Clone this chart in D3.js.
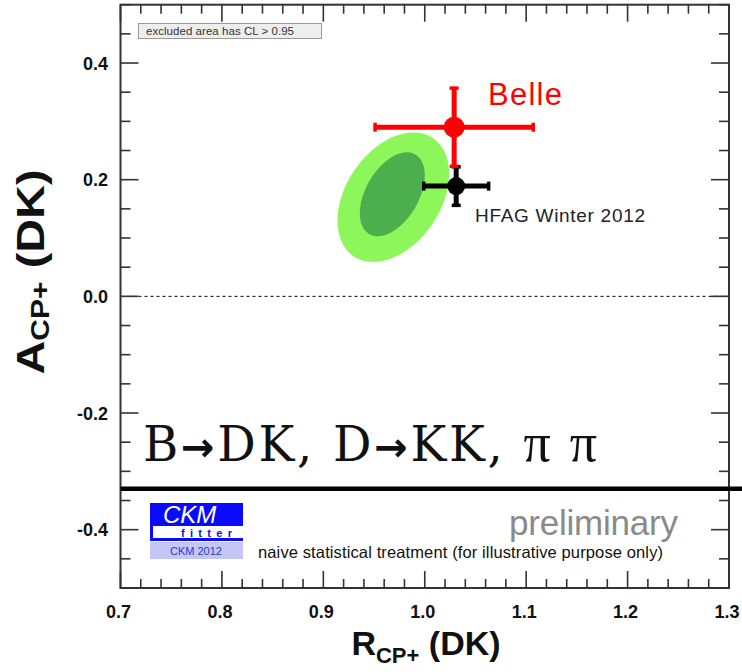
<!DOCTYPE html>
<html>
<head>
<meta charset="utf-8">
<script src="https://d3js.org/d3.v7.min.js"></script>
<style>
  body { margin:0; background:white; }
  text { font-family: "Liberation Sans", Arial, sans-serif; }
</style>
</head>
<body>
<div id="container"></div>
<script>
var w = 742;
var h = 672;

// Data =====================================================
var xTickValues = [0.7, 0.8, 0.9, 1.0, 1.1, 1.2, 1.3];
var yTickValues = [-0.4, -0.2, 0.0, 0.2, 0.4];

// measurements: R_CP+, A_CP+ with errors
var pointNames  = ["HFAG Winter 2012", "Belle"];
var pointR      = [1.031, 1.029];
var pointRErr   = [0.032, 0.078];
var pointA      = [0.189, 0.290];
var pointAErr   = [0.033, 0.067];
var pointColors = ["#000000", "#ff0000"];

// CL contours (outer = 95%, inner = 68%)
var contourNames   = ["outer", "inner"];
var contourR       = [0.969, 0.968];
var contourA       = [0.170, 0.175];
var contourHalfR   = [0.055, 0.032];
var contourHalfA   = [0.111, 0.072];
var contourRho     = [0.36, 0.45];
var contourColors  = ["#8df65b", "#4cae4c"];

var cutLineA = -0.330;
// ===========================================================

var svg = d3.select("#container")
            .append("svg")
            .attr("width", w)
            .attr("height", h)
            .style("background", "white");

var x = d3.scaleLinear().domain([0.7, 1.3]).range([120.5, 729]);
var y = d3.scaleLinear().domain([-0.5, 0.5]).range([588, 4.7]);

// Contours ==================================================
var line = d3.line().x(function(d){ return x(d[0]); }).y(function(d){ return y(d[1]); });
contourNames.forEach(function(name, i){
    var pts = d3.range(0, 361, 3).map(function(deg){
        var t = deg * Math.PI / 180;
        var r = contourR[i] + contourHalfR[i] * Math.cos(t);
        var a = contourA[i] + contourHalfA[i] * (contourRho[i] * Math.cos(t) + Math.sqrt(1 - contourRho[i]*contourRho[i]) * Math.sin(t));
        return [r, a];
    });
    svg.append("path")
       .attr("d", line(pts) + "Z")
       .attr("fill", contourColors[i])
       .attr("stroke", "none");
});

// zero line
svg.append("line")
   .attr("x1", x(0.7)).attr("x2", x(1.3))
   .attr("y1", y(0)).attr("y2", y(0))
   .attr("stroke", "black")
   .attr("stroke-width", 1)
   .attr("stroke-dasharray", "3,3");

// Axes / frame ==============================================
var axisColor = "#333";
var frame = svg.append("g");
frame.append("rect")
     .attr("x", x(0.7)).attr("y", y(0.5))
     .attr("width", x(1.3) - x(0.7))
     .attr("height", y(-0.5) - y(0.5))
     .attr("fill", "none")
     .attr("stroke", axisColor)
     .attr("stroke-width", 2);

var xMinor = d3.range(0, 31).map(function(i){ return 0.7 + i * 0.02; });
xMinor.forEach(function(v){
    var major = Math.abs(Math.round(v * 10) - v * 10) < 1e-6;
    var len = major ? 17 : 9;
    frame.append("line").attr("x1", x(v)).attr("x2", x(v))
         .attr("y1", y(-0.5)).attr("y2", y(-0.5) - len)
         .attr("stroke", axisColor).attr("stroke-width", 1.6);
    frame.append("line").attr("x1", x(v)).attr("x2", x(v))
         .attr("y1", y(0.5)).attr("y2", y(0.5) + len)
         .attr("stroke", axisColor).attr("stroke-width", 1.6);
});
var yMinor = d3.range(0, 21).map(function(i){ return -0.5 + i * 0.05; });
yMinor.forEach(function(v){
    var major = Math.abs(Math.round(v * 5) - v * 5) < 1e-6;
    var len = major ? 18 : 10;
    frame.append("line").attr("y1", y(v)).attr("y2", y(v))
         .attr("x1", x(0.7)).attr("x2", x(0.7) + len)
         .attr("stroke", axisColor).attr("stroke-width", 1.6);
    frame.append("line").attr("y1", y(v)).attr("y2", y(v))
         .attr("x1", x(1.3)).attr("x2", x(1.3) - len)
         .attr("stroke", axisColor).attr("stroke-width", 1.6);
});

svg.selectAll(".xlab")
   .data(xTickValues).enter()
   .append("text")
   .attr("x", function(d){ return x(d) - 2; })
   .attr("y", 618)
   .attr("text-anchor", "middle")
   .attr("font-size", 18).attr("font-weight", "bold")
   .attr("fill", "#111")
   .text(function(d){ return d.toFixed(1); });

svg.selectAll(".ylab")
   .data(yTickValues).enter()
   .append("text")
   .attr("x", 108)
   .attr("y", function(d){ return y(d) + 6.5; })
   .attr("text-anchor", "end")
   .attr("font-size", 18).attr("font-weight", "bold")
   .attr("fill", "#111")
   .text(function(d){ return d.toFixed(1); });

// axis titles
var xt = svg.append("text")
   .attr("x", 426).attr("y", 655)
   .attr("text-anchor", "middle")
   .attr("font-weight", "bold").attr("font-size", 34)
   .attr("fill", "#111");
xt.append("tspan").text("R");
xt.append("tspan").attr("font-size", 22).attr("dy", 8).text("CP+");
xt.append("tspan").attr("dy", -8).text(" (DK)");

var yt = svg.append("text")
   .attr("transform", "translate(44,272) rotate(-90)")
   .attr("text-anchor", "middle")
   .attr("font-weight", "bold").attr("font-size", 39)
   .attr("fill", "#111")
   .attr("textLength", 205)
   .attr("lengthAdjust", "spacingAndGlyphs");
yt.append("tspan").text("A");
yt.append("tspan").attr("font-size", 25).attr("dy", 5).text("CP+");
yt.append("tspan").attr("dy", -5).text(" (DK)");

// Legend ====================================================
svg.append("rect")
   .attr("x", 138.5).attr("y", 23.5).attr("width", 183).attr("height", 15)
   .attr("fill", "#eeeeee").attr("stroke", "#999").attr("stroke-width", 1);
svg.append("text")
   .attr("x", 146).attr("y", 35).attr("font-size", 11.5).attr("fill", "#333")
   .attr("textLength", 148)
   .text("excluded area has CL > 0.95");

// Points ====================================================
pointNames.forEach(function(name, i){
    var g = svg.append("g").attr("fill", pointColors[i]).attr("stroke", pointColors[i]);
    var cx = x(pointR[i]), cy = y(pointA[i]);
    var x0 = x(pointR[i] - pointRErr[i]), x1 = x(pointR[i] + pointRErr[i]);
    var y0 = y(pointA[i] + pointAErr[i]), y1 = y(pointA[i] - pointAErr[i]);
    g.append("line").attr("x1", x0).attr("x2", x1).attr("y1", cy).attr("y2", cy).attr("stroke-width", 5);
    g.append("line").attr("x1", cx).attr("x2", cx).attr("y1", y0).attr("y2", y1).attr("stroke-width", 5);
    // caps
    [x0, x1].forEach(function(xx){
        g.append("line").attr("x1", xx).attr("x2", xx).attr("y1", cy - 4.5).attr("y2", cy + 4.5).attr("stroke-width", 3.5);
    });
    [y0, y1].forEach(function(yy){
        g.append("line").attr("y1", yy).attr("y2", yy).attr("x1", cx - 4.5).attr("x2", cx + 4.5).attr("stroke-width", 3.5);
    });
    g.append("circle").attr("cx", cx).attr("cy", cy).attr("r", i == 1 ? 10.5 : 9).attr("stroke", "none");
});

svg.append("text")
   .attr("x", 488).attr("y", 105)
   .attr("font-size", 31).attr("fill", "#ff0000")
   .attr("textLength", 74)
   .text("Belle");
svg.append("text")
   .attr("x", 475).attr("y", 222)
   .attr("font-size", 19).attr("fill", "#222")
   .attr("textLength", 170)
   .text("HFAG Winter 2012");

// Annotations ===============================================
var mode = svg.append("text")
   .attr("x", 143).attr("y", 461)
   .style("font-family", "'DejaVu Serif', serif")
   .attr("font-size", 48)
   .attr("fill", "#111")
   .attr("textLength", 454)
   .attr("lengthAdjust", "spacing");
mode.append("tspan").text("B");
mode.append("tspan").style("font-family", "'DejaVu Sans', sans-serif").attr("font-weight", "bold").attr("font-size", 40).text("→");
mode.append("tspan").text("DK, D");
mode.append("tspan").style("font-family", "'DejaVu Sans', sans-serif").attr("font-weight", "bold").attr("font-size", 40).text("→");
mode.append("tspan").text("KK, ");
mode.append("tspan").style("font-family", "'Liberation Serif', serif").attr("font-size", 54).text("π π");

svg.append("line")
   .attr("x1", x(0.7)).attr("x2", w)
   .attr("y1", y(cutLineA)).attr("y2", y(cutLineA))
   .attr("stroke", "black").attr("stroke-width", 4.5);

svg.append("text")
   .attr("x", 509).attr("y", 535)
   .attr("font-size", 35).attr("fill", "#8a8a8a")
   .attr("textLength", 169)
   .text("preliminary");
svg.append("text")
   .attr("x", 258).attr("y", 558)
   .attr("font-size", 16.5).attr("fill", "#111")
   .attr("textLength", 405)
   .text("naive statistical treatment (for illustrative purpose only)");

// CKMfitter logo
var logo = svg.append("g");
logo.append("rect").attr("x", 150).attr("y", 503).attr("width", 93).attr("height", 38).attr("fill", "#0a0aff");
logo.append("rect").attr("x", 153).attr("y", 526).attr("width", 90).attr("height", 12).attr("fill", "white");
logo.append("rect").attr("x", 150).attr("y", 542).attr("width", 93).attr("height", 17).attr("fill", "#c6c6f6");
logo.append("text").attr("x", 163).attr("y", 523).attr("font-size", 24).attr("font-style", "italic")
    .attr("fill", "white").text("CKM");
logo.append("text").attr("x", 181).attr("y", 537).attr("font-size", 11).attr("font-weight", "bold")
    .attr("fill", "#0a0aff").attr("textLength", 51).attr("lengthAdjust", "spacing").text("fitter");
logo.append("text").attr("x", 196).attr("y", 554.5).attr("font-size", 11).attr("text-anchor", "middle")
    .attr("fill", "#2340d0").text("CKM 2012");
</script>
</body>
</html>
